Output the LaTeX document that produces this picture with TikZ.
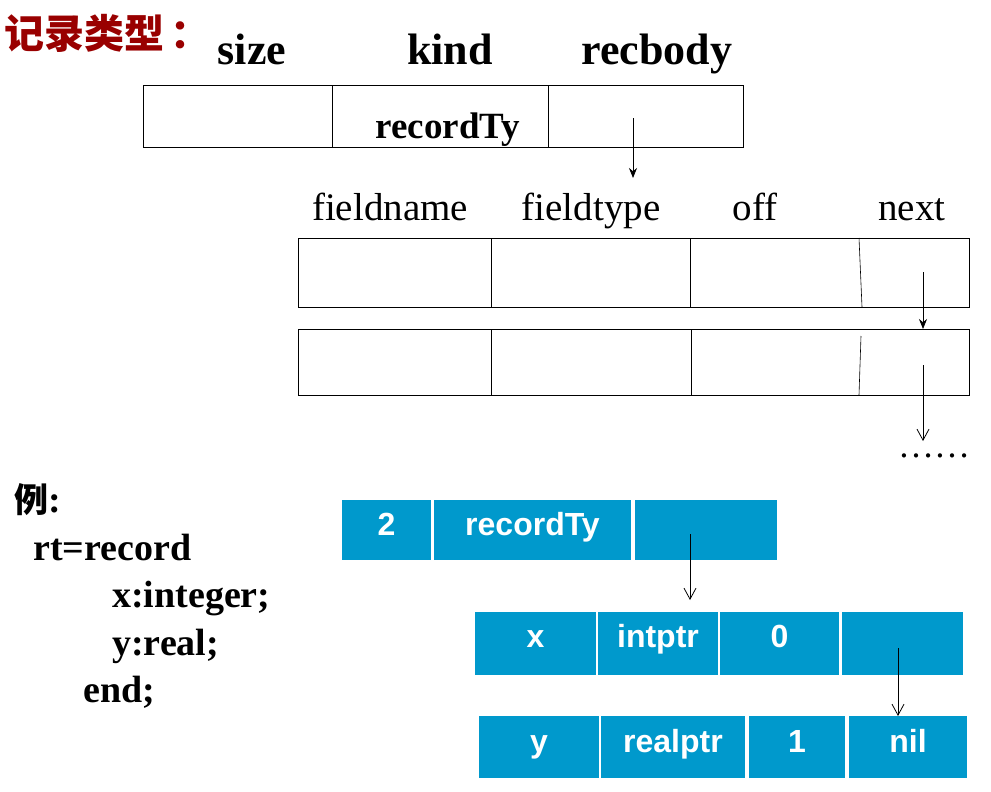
\documentclass[tikz,border=0pt]{standalone}
\usepackage{fontspec}
\setmainfont{Liberation Serif}
\setsansfont{Liberation Sans}
\newfontfamily\cjk{Noto Sans CJK SC}
\usetikzlibrary{arrows.meta}
\definecolor{cellblue}{RGB}{0,153,204}
\definecolor{titlered}{RGB}{153,0,0}
\tikzset{
  wcell/.style={draw=black, line width=0.8pt, inner sep=0pt, outer sep=0pt},
  bcell/.style={fill=cellblue, inner sep=0pt, outer sep=0pt},
  btxt/.style={anchor=base, inner sep=0pt, text=white,
     font=\sffamily\bfseries\fontsize{32}{32}\selectfont},
  toplbl/.style={anchor=base, font=\bfseries\fontsize{44}{44}\selectfont},
  fldlbl/.style={anchor=base, font=\fontsize{39}{39}\selectfont},
  codetxt/.style={anchor=base west, inner sep=0pt, font=\bfseries\fontsize{38}{38}\selectfont},
  fillarrow/.style={line width=0.8pt, -{Stealth[length=10pt,width=8pt]}},
  openarrow/.style={line width=0.8pt, -{Straight Barb[length=11pt,width=12pt,line width=0.8pt]}},
}
\begin{document}
\begin{tikzpicture}[x=1pt,y=-1pt]
\useasboundingbox (0,0) rectangle (991,792);

% title
\node[anchor=base west, inner sep=0pt, text=titlered, font=\cjk\bfseries\fontsize{40}{40}\selectfont] (title) at (4,49) {记录类型\kern6pt：};

% top labels
\node[toplbl] (lsize) at (252,65) {size};
\node[toplbl] (lkind) at (450,65) {kind};
\node[toplbl] (lrec) at (657,65) {recbody};

% top table
\node[wcell, minimum width=189pt, minimum height=62pt] (tsize) at (237.5,116) {};
\node[wcell, minimum width=216pt, minimum height=62pt] (tkind) at (440,116) {};
\node[wcell, minimum width=195pt, minimum height=62pt] (trec) at (645.5,116) {};
\node[anchor=base, font=\bfseries\fontsize{37}{37}\selectfont] (tkindtxt) at (448,138) {recordTy};
\coordinate (recstart) at (633,118);
\coordinate (recend) at (633,178);
\draw[fillarrow] (recstart) -- (recend);

% field labels
\node[fldlbl] (lfname) at (390,220) {fieldname};
\node[fldlbl] (lftype) at (591,220) {fieldtype};
\node[fldlbl] (loff) at (755,220) {off};
\node[fldlbl] (lnext) at (912,220) {next};

% field row 1
\node[wcell, minimum width=193pt, minimum height=69pt] (fa1) at (394.5,272.5) {};
\node[wcell, minimum width=199pt, minimum height=69pt] (fb1) at (590.5,272.5) {};
\node[wcell, minimum width=279pt, minimum height=69pt] (fc1) at (829.5,272.5) {};
\draw[line width=0.6pt] (fc1.north west -| 859,0) -- (fc1.south west -| 862,0);

% field row 2
\node[wcell, minimum width=193pt, minimum height=66pt] (fa2) at (394.5,362) {};
\node[wcell, minimum width=200pt, minimum height=66pt] (fb2) at (591,362) {};
\node[wcell, minimum width=278pt, minimum height=66pt] (fc2) at (830,362) {};
\coordinate (sl2a) at (861,336);
\draw[line width=0.6pt] (sl2a) -- (fc2.south west -| 859,0);

\coordinate (n1start) at (923,272);
\draw[fillarrow] (n1start) -- (fc2.north -| n1start);
\coordinate (n2start) at (923,365);
\coordinate (n2end) at (923,441);
\draw[openarrow] (n2start) -- (n2end);
\node[anchor=base, inner sep=0pt, font=\fontsize{36}{36}\selectfont] (dots) at (934,457) {……};

% example code
\node[anchor=base west, inner sep=0pt] (ex) at (14,512) {{\cjk\bfseries\fontsize{34}{34}\selectfont 例}{\bfseries\fontsize{38}{38}\selectfont :}};
\node[codetxt] (c1) at (33,560) {rt=record};
\node[codetxt] (c2) at (112,607) {x:integer;};
\node[codetxt] (c3) at (112,655) {y:real;};
\node[codetxt] (c4) at (83,702) {end;};

% blue row A
\node[bcell, minimum width=89pt, minimum height=60pt] (a1) at (386.5,530) {};
\node[bcell, minimum width=197pt, minimum height=60pt] (a2) at (532.5,530) {};
\node[bcell, minimum width=142pt, minimum height=60pt] (a3) at (706,530) {};
\node[btxt] (a1t) at (386.5,535) {2};
\node[btxt] (a2t) at (532.5,535) {recordTy};

% blue row B
\node[bcell, minimum width=121pt, minimum height=63pt] (b1) at (535.5,643.5) {};
\node[bcell, minimum width=120pt, minimum height=63pt] (b2) at (658,643.5) {};
\node[bcell, minimum width=119pt, minimum height=63pt] (b3) at (779.5,643.5) {};
\node[bcell, minimum width=121pt, minimum height=63pt] (b4) at (902.5,643.5) {};
\node[btxt] (b1t) at (535.5,647) {x};
\node[btxt] (b2t) at (658,647) {intptr};
\node[btxt] (b3t) at (779.5,647) {0};

% blue row C
\node[bcell, minimum width=120pt, minimum height=62pt] (c1b) at (539,747) {};
\node[bcell, minimum width=144pt, minimum height=62pt] (c2b) at (673,747) {};
\node[bcell, minimum width=96pt, minimum height=62pt] (c3b) at (797,747) {};
\node[bcell, minimum width=118pt, minimum height=62pt] (c4b) at (908,747) {};
\node[btxt] (c1t) at (539,752) {y};
\node[btxt] (c2t) at (673,752) {realptr};
\node[btxt] (c3t) at (797,752) {1};
\node[btxt] (c4t) at (908,752) {nil};

% blue arrows
\coordinate (aa) at (690,534);
\coordinate (aaend) at (690,600);
\draw[openarrow] (aa) -- (aaend);
\coordinate (bb) at (898,648);
\draw[openarrow] (bb) -- (c4b.north -| bb);
\end{tikzpicture}
\end{document}
